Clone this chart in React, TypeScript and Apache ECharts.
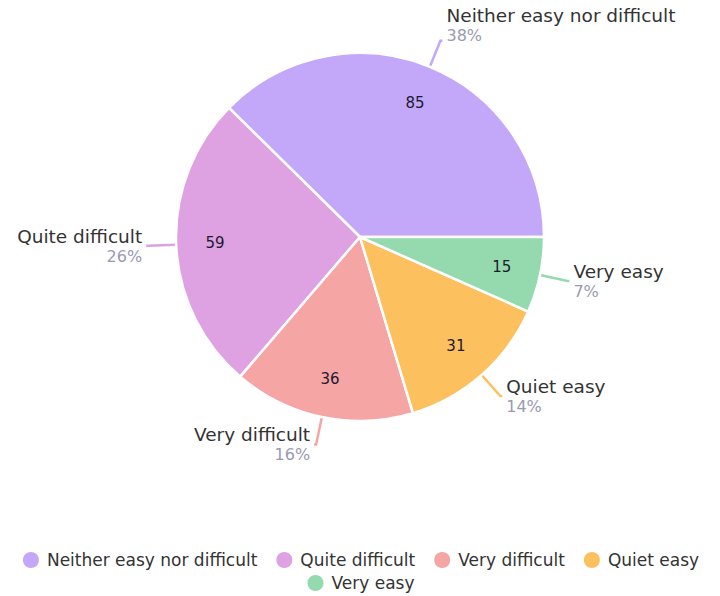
import React, { useEffect, useRef } from "react";
import * as echarts from "echarts";

const categories = ["Neither easy nor difficult", "Quite difficult", "Very difficult", "Quiet easy", "Very easy"];
const values = [85, 59, 36, 31, 15];
const colors = ["#C3A8FA", "#DEA1E1", "#F6A5A5", "#FDC05E", "#95D9AF"];
const legendRow1 = categories.slice(0, 4);
const legendRow2 = categories.slice(4);

export default function App() {
  const ref = useRef<HTMLDivElement>(null);
  useEffect(() => {
    document.body.style.margin = "0";
    const chart = echarts.init(ref.current!, null, { renderer: "svg" });
    const total = values.reduce((a, b) => a + b, 0);
    const data = categories.map((name, i) => ({ name, value: values[i], itemStyle: { color: colors[i] } }));
    const font = "'DejaVu Sans', 'Noto Sans', sans-serif";
    const legendBase = {
      left: "center",
      icon: "circle",
      itemWidth: 22,
      itemHeight: 18,
      itemGap: 17,
      textStyle: { fontSize: 17, color: "#333", fontFamily: font },
    };
    chart.setOption({
      animation: false,
      textStyle: { fontFamily: font },
      legend: [
        { ...legendBase, top: 545, data: legendRow1 },
        { ...legendBase, top: 568, data: legendRow2 },
      ],
      series: [
        {
          type: "pie",
          center: [360, 237],
          radius: [0, 184],
          startAngle: 0,
          clockwise: false,
          data,
          itemStyle: { borderColor: "#fff", borderWidth: 2.5 },
          label: {
            show: true,
            position: "outside",
            distanceToLabelLine: 4,
            formatter: (p: any) => `{n|${p.name}}\n{p|${Math.round((p.value / total) * 100)}%}`,
            rich: {
              n: { fontSize: 18.5, color: "#333", fontFamily: font, lineHeight: 21 },
              p: { fontSize: 16, color: "#9A9AB3", fontFamily: font, lineHeight: 19 },
            },
          },
          labelLine: { show: true, length: 28, length2: 2, lineStyle: { width: 2.5 } },
          labelLayout: (p: any) => (p.dataIndex === 0 ? { dy: -16 } : {}),
          emphasis: { disabled: true },
        },
        {
          type: "pie",
          center: [360, 237],
          radius: [100, 184],
          startAngle: 0,
          clockwise: false,
          silent: true,
          data: categories.map((name, i) => ({ name, value: values[i] })),
          itemStyle: { color: "rgba(0,0,0,0)", borderWidth: 0 },
          label: {
            show: true,
            position: "inside",
            formatter: "{c}",
            fontSize: 15,
            fontWeight: 500,
            color: "#1C1A2E",
            fontFamily: font,
          },
          labelLine: { show: false },
          emphasis: { disabled: true },
          tooltip: { show: false },
        },
      ],
    });
    return () => chart.dispose();
  }, []);
  return <div ref={ref} style={{ width: 720, height: 596 }} />;
}
